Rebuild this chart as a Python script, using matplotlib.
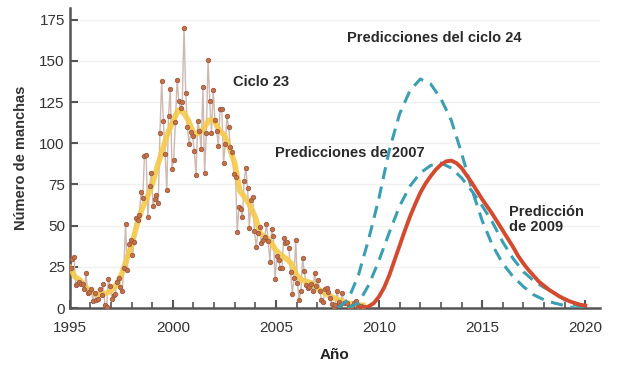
import numpy as np
import matplotlib
matplotlib.use("Agg")
import matplotlib.pyplot as plt
from matplotlib.ticker import MultipleLocator

plt.rcParams['font.family'] = ['Liberation Sans', 'DejaVu Sans']

# monthly sunspot numbers, Jan 1995 - Mar 2009 (cycle 23)
monthly = [
    24.2, 29.9, 31.1, 14.0, 14.5, 15.6, 14.5, 14.3, 11.8, 21.1, 9.0, 10.0,   # 1995
    11.5, 4.4, 9.2, 4.8, 5.5, 11.8, 8.2, 14.4, 1.6, 0.9, 17.9, 13.3,         # 1996
    5.7, 7.6, 8.7, 15.5, 18.5, 12.7, 10.4, 24.4, 51.3, 22.8, 39.0, 41.2,     # 1997
    31.9, 40.3, 54.8, 53.4, 56.3, 70.7, 66.6, 92.2, 92.9, 55.5, 74.0, 81.9,  # 1998
    62.0, 66.3, 68.8, 63.7, 106.4, 137.7, 113.5, 93.7, 71.5, 116.7, 133.2, 84.6,  # 1999
    90.1, 112.9, 138.5, 125.5, 121.6, 124.9, 170.1, 130.5, 109.7, 99.4, 106.8, 104.4,  # 2000
    95.6, 80.6, 113.5, 107.7, 96.6, 134.0, 81.8, 106.4, 150.7, 125.5, 106.5, 132.2,  # 2001
    114.1, 107.4, 98.4, 120.7, 120.8, 88.3, 99.6, 116.4, 109.6, 97.5, 95.0, 81.6,  # 2002
    79.5, 46.2, 61.5, 60.0, 55.2, 77.4, 85.0, 72.7, 48.8, 65.5, 67.3, 46.5,  # 2003
    37.3, 45.8, 49.1, 39.3, 41.5, 43.2, 51.1, 40.9, 27.7, 48.0, 43.5, 17.9,  # 2004
    31.3, 29.2, 24.5, 24.4, 42.6, 39.6, 39.9, 36.4, 22.1, 8.5, 18.0, 41.2,   # 2005
    15.3, 4.9, 10.6, 30.2, 22.3, 13.9, 12.2, 12.9, 14.4, 10.5, 21.4, 13.6,   # 2006
    16.9, 10.6, 4.8, 3.7, 11.7, 12.0, 10.0, 6.2, 2.4, 0.9, 1.7, 10.1,        # 2007
    3.4, 2.1, 9.3, 2.9, 2.9, 3.1, 0.5, 0.5, 1.1, 2.9, 4.1, 0.8,              # 2008
    1.5, 1.4, 0.7,                                                           # 2009
]
monthly_years = 1995 + (np.arange(len(monthly)) + 0.5) / 12

# smoothed sunspot number, quarterly
smooth_years = np.arange(1995, 2009.3, 0.25)
smooth = [25, 19, 17, 13, 10, 8.5, 8.3, 8.8, 10.5, 14, 20, 29,
          38, 50, 60, 67, 75, 86, 96, 106, 113, 120, 119, 114,
          106, 106, 109, 114, 114, 108, 105, 97, 88, 71, 67, 62,
          55, 45, 43, 40, 35, 32, 30, 27, 20, 17, 16, 15,
          12, 10, 8, 6.5, 5, 4, 3, 2.5, 1.8, 1.8]

# cycle 24 predictions of 2007 (half-year steps)
pred_high_years = np.arange(2008.0, 2019.51, 0.5)
pred_high = [0, 5, 20, 42, 67, 96, 118, 132, 139, 136, 127, 114,
             94, 72, 53, 38, 27, 19, 13, 8, 5, 3, 1.5, 0]

pred_low_years = np.arange(2008.5, 2020.01, 0.5)
pred_low = [0, 3, 14, 29, 46, 62, 74, 82, 86.5, 88, 85, 79,
            71, 62, 52, 40, 30, 22, 16.5, 12.5, 9, 5, 2, 0]

# 2009 prediction (quarter-year steps)
pred_2009_years = np.arange(2009.0, 2020.01, 0.25)
pred_2009 = [0, 0, 1, 3, 7, 12.5, 20, 29, 38, 47, 55.5, 63,
             70, 75.5, 80, 84, 87, 89, 89.5, 88, 85, 80.5, 76, 71,
             66, 61.5, 57, 52, 47, 42, 37, 31.5, 27, 23, 19.5, 16,
             13.5, 11, 9, 7, 5.5, 4, 3, 2, 1.5]

fig = plt.figure(figsize=(6.28, 3.72), dpi=100)
ax = fig.add_axes([0.111, 0.172, 0.844, 0.806])

for v in range(25, 200, 25):
    ax.axhline(v, color='#f0f0f0', lw=1, zorder=0)

ax.plot(monthly_years, monthly, color='#cdb9b0', lw=1, zorder=2)
ax.plot(smooth_years, smooth, color='#f6c94a', lw=4, alpha=0.9, zorder=3,
        solid_capstyle='round')
ax.plot(monthly_years, monthly, ls='none', marker='o', ms=3.2,
        mfc='#c8703e', mec='#9a5a48', mew=0.6, zorder=4)

ax.plot(pred_high_years, pred_high, color='#3a9fb4', lw=2.2, ls=(0, (4, 2.5)), zorder=5)
ax.plot(pred_low_years, pred_low, color='#3a9fb4', lw=2.2, ls=(0, (4, 2.5)), zorder=5)
ax.plot(pred_2009_years, pred_2009, color='#d44a2e', lw=2.8, zorder=6)

ax.set_xlim(1995, 2020.7)
ax.set_ylim(0, 182)
ax.xaxis.set_major_locator(MultipleLocator(5))
ax.xaxis.set_minor_locator(MultipleLocator(1))
ax.set_yticks(range(0, 176, 25))

for s in ['top', 'right']:
    ax.spines[s].set_visible(False)
for s in ['left', 'bottom']:
    ax.spines[s].set_color('#555555')
    ax.spines[s].set_linewidth(1.8)

ax.tick_params(axis='both', which='major', direction='in', length=6, width=1.5,
               color='#555555', labelsize=11, labelcolor='#333333')
ax.tick_params(axis='x', which='minor', direction='in', length=4, width=1.2,
               color='#555555')
ax.tick_params(axis='x', pad=9)

ax.set_xlabel('Año', fontsize=11, fontweight='bold', color='#222222', labelpad=10)
ax.set_ylabel('Número de manchas', fontsize=10.5, fontweight='bold',
              color='#333333', labelpad=8)

txt = dict(fontsize=10.5, fontweight='bold', color='#2a2a2a', zorder=7)
ax.text(2012.7, 164, 'Predicciones del ciclo 24', ha='center', va='center', **txt)
ax.text(2004.3, 137, 'Ciclo 23', ha='center', va='center', **txt)
ax.text(2008.6, 94, 'Predicciones de 2007', ha='center', va='center', **txt)
ax.text(2016.3, 54, 'Predicción\nde 2009', ha='left', va='center',
        linespacing=1.1, **txt)

fig.savefig('out.png', dpi=100)
